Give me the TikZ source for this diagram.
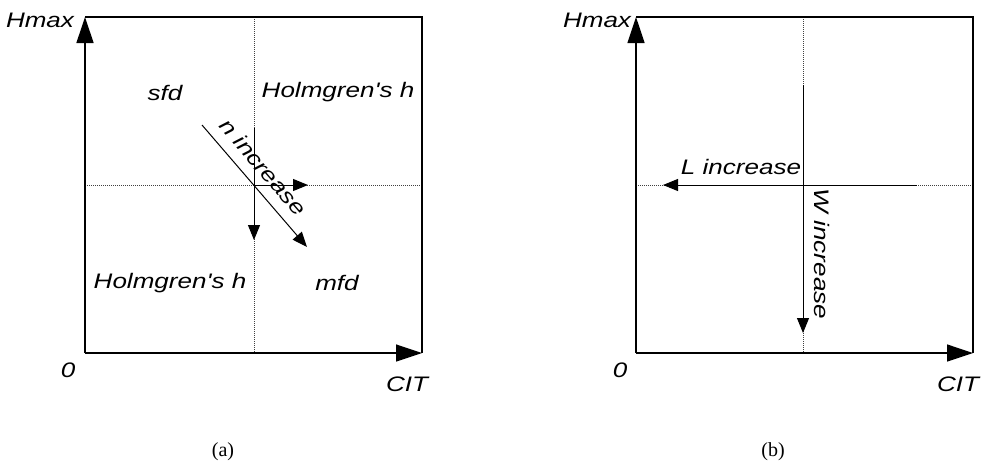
\documentclass[tikz,border=0pt]{standalone}
\usepackage{fontspec}
\usetikzlibrary{arrows.meta}
\newfontfamily\labfont[FakeStretch=1.24]{Liberation Sans}
\newfontfamily\capfont{Liberation Serif}
\tikzset{
  lab/.style={font=\labfont\itshape\fontsize{21}{24}\selectfont, inner sep=0pt},
  panelcaption/.style={font=\capfont\fontsize{20}{22}\selectfont, inner sep=0pt},
  frame/.style={line width=1.3pt, line join=miter},
  axis/.style={line width=1.3pt, -{Triangle[length=26pt,width=17pt]}},
  arr/.style={line width=1pt, -{Triangle[length=15pt,width=12pt]}},
  guide/.style={line width=0.7pt, black!75, dash pattern=on 1pt off 1pt},
  solidseg/.style={line width=1pt},
}
\begin{document}
\begin{tikzpicture}[x=1pt,y=-1pt]
\useasboundingbox (0,0) rectangle (981,467);

% ---------- panel (a) ----------
\coordinate (ao) at (85,353);
\coordinate (atl) at (85,17);
\coordinate (abr) at (422,353);
\coordinate (atr) at (422,17);
\coordinate (ac) at (254,185);
\coordinate (amt) at (254,17);
\coordinate (amb) at (254,353);
\coordinate (aml) at (85,185);
\coordinate (amr) at (422,185);
\coordinate (aup) at (254,128);
\coordinate (aright) at (308,185);
\coordinate (adown) at (254,240);
\coordinate (ans) at (202,125);
\coordinate (ane) at (307,247);

\draw[guide] (amt) -- (amb);
\draw[guide] (aml) -- (amr);
\draw[solidseg] (aup) -- (ac);
\draw[frame] (atl) -- (atr) -- (abr);
\draw[axis] (ao) -- (atl);
\draw[axis] (ao) -- (abr);
\draw[arr] (ac) -- (aright);
\draw[arr] (ac) -- (adown);
\draw[arr] (ans) -- (ane);

\node[lab] (ahmax) at (40,20) {Hmax};
\node[lab] (azero) at (68,370) {0};
\node[lab] (acit) at (407,384) {CIT};
\node[lab] (asfd) at (165,93) {sfd};
\node[lab] (aholtr) at (338,92) {Holmgren's h};
\node[lab] (aholbl) at (170,283) {Holmgren's h};
\node[lab] (amfd) at (337,283) {mfd};
\node[lab, rotate=-49.3] (an) at (263,167) {n increase};
\node[panelcaption] (acap) at (223,452) {(a)};

% ---------- panel (b) ----------
\coordinate (bo) at (636,353);
\coordinate (btl) at (636,17);
\coordinate (bbr) at (973,353);
\coordinate (btr) at (973,17);
\coordinate (bc) at (803,185);
\coordinate (bmt) at (803,17);
\coordinate (bmb) at (803,353);
\coordinate (bml) at (636,185);
\coordinate (bmr) at (973,185);
\coordinate (bup) at (803,85);
\coordinate (bsr) at (917,185);
\coordinate (bleft) at (663,185);
\coordinate (bdown) at (803,333);

\draw[guide] (bmt) -- (bmb);
\draw[guide] (bml) -- (bmr);
\draw[solidseg] (bup) -- (bc) -- (bsr);
\draw[frame] (btl) -- (btr) -- (bbr);
\draw[axis] (bo) -- (btl);
\draw[axis] (bo) -- (bbr);
\draw[arr] (bc) -- (bleft);
\draw[arr] (bc) -- (bdown);

\node[lab] (bhmax) at (597,20) {Hmax};
\node[lab] (bzero) at (620,370) {0};
\node[lab] (bcit) at (958,384) {CIT};
\node[lab] (bl) at (741,167) {L increase};
\node[lab, rotate=-90] (bw) at (822,254) {W increase};
\node[panelcaption] (bcap) at (773,452) {(b)};
\end{tikzpicture}
\end{document}
